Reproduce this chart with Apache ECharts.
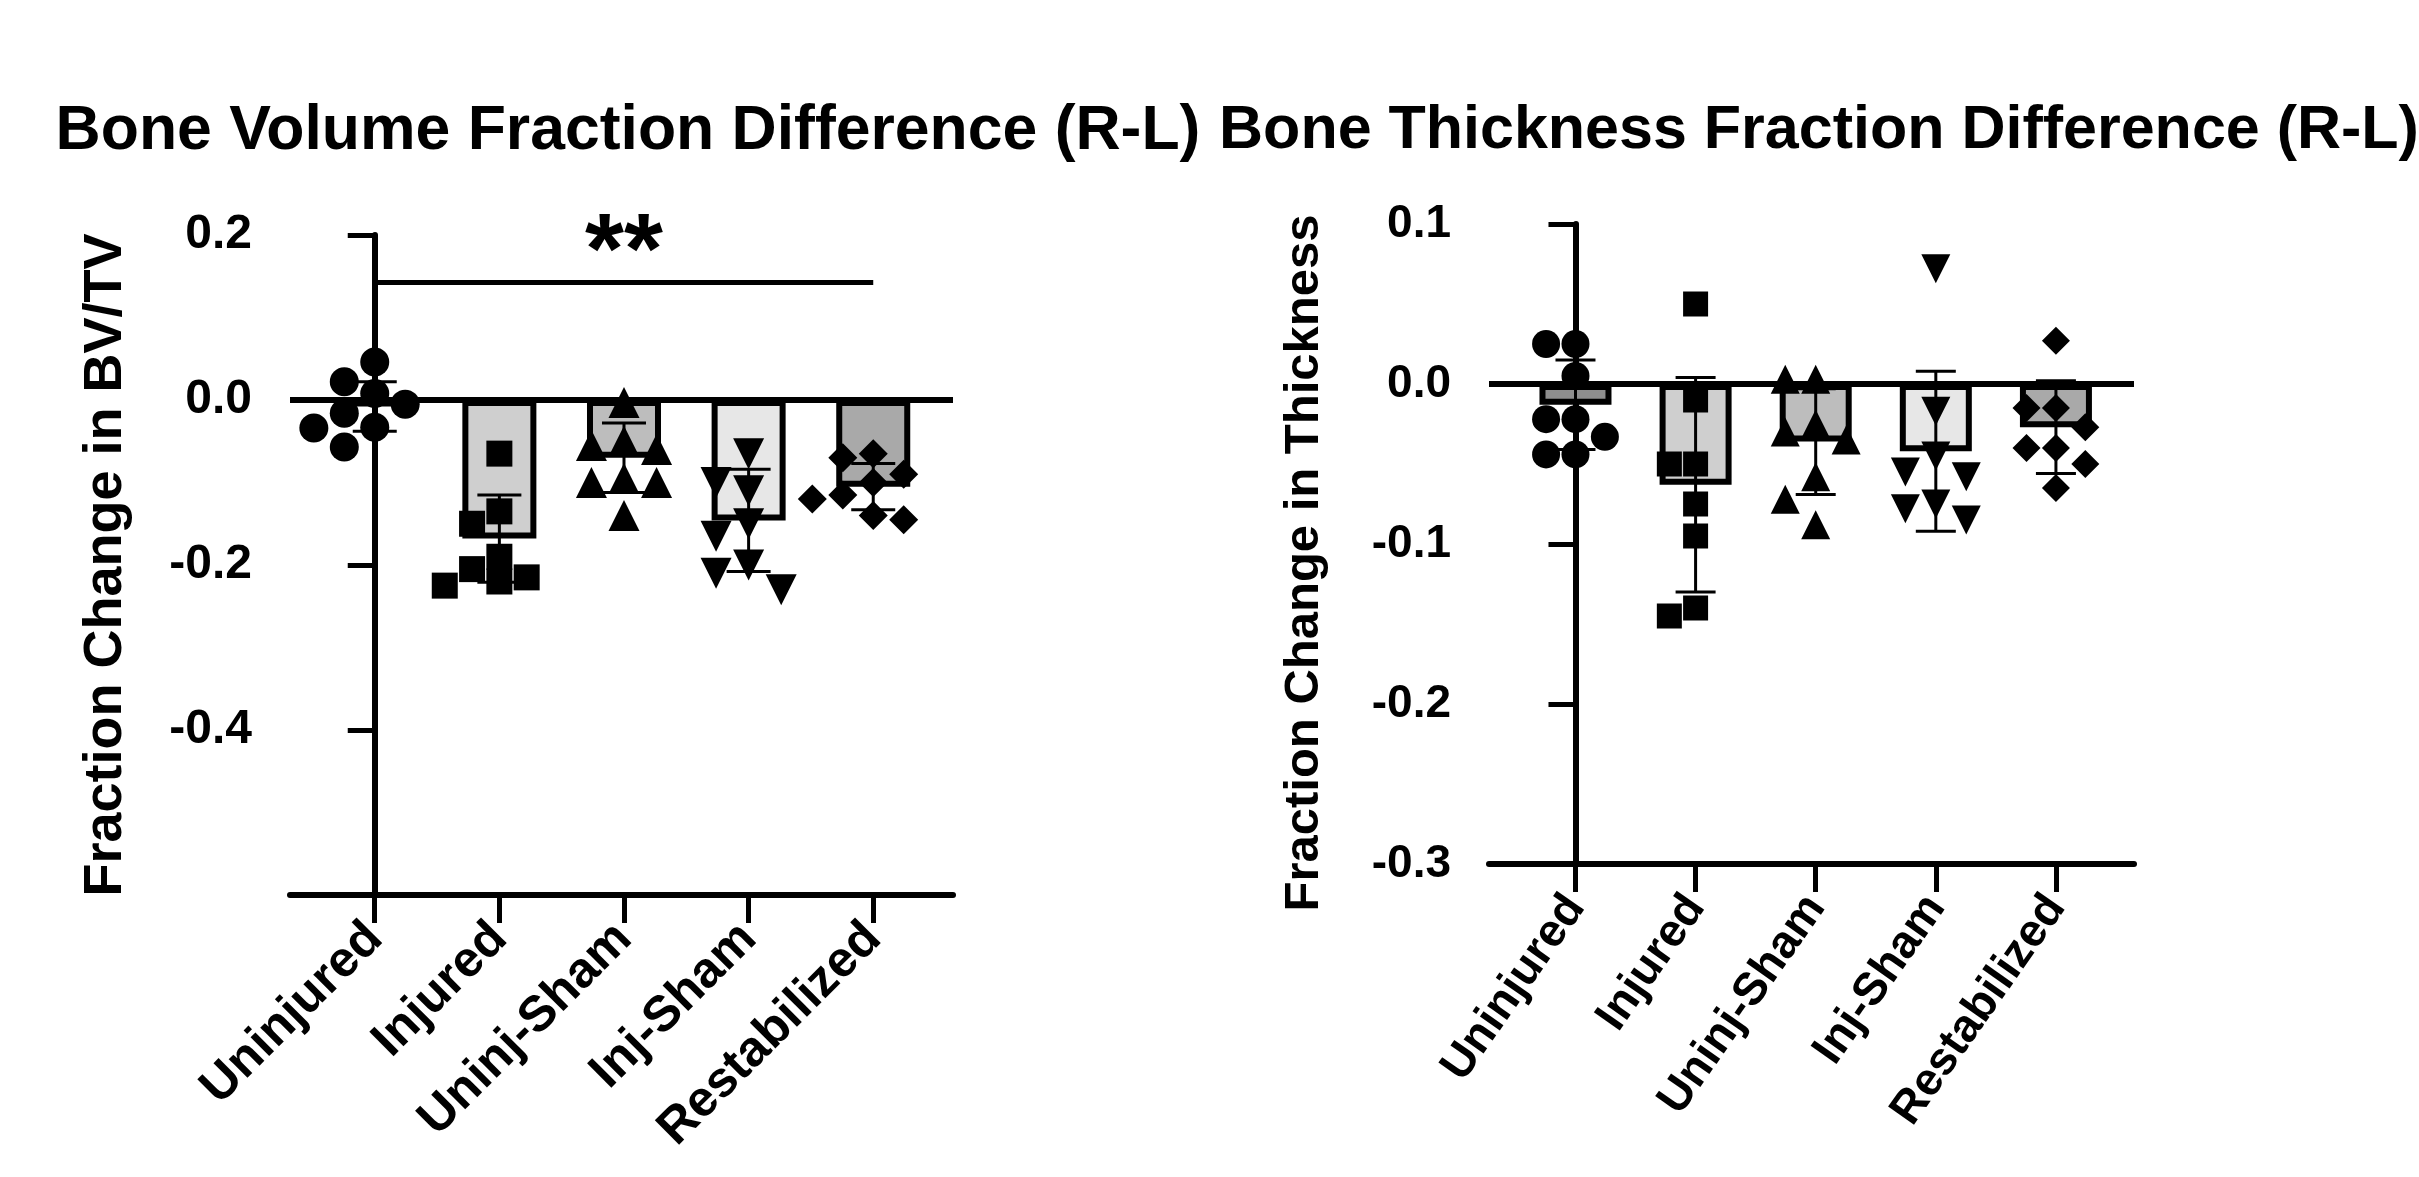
<!DOCTYPE html>
<html>
<head>
<meta charset="utf-8">
<script src="https://cdn.jsdelivr.net/npm/echarts@6/dist/echarts.min.js"></script>
<style>
  html, body { margin: 0; padding: 0; background: #fff; }
  #chart { width: 2419px; height: 1177px; }
</style>
</head>
<body>
<div id="chart"></div>
<script>
var categories = ['Uninjured', 'Injured', 'Uninj-Sham', 'Inj-Sham', 'Restabilized'];

// BV/TV difference (R-L): bar = mean, whisker = SD
var bvMean = [-0.008, -0.168, -0.070, -0.146, -0.105];
var bvSd = [0.030, 0.053, 0.042, 0.062, 0.028];
var bvUninjured = [0.046, 0.022, 0.008, -0.005, -0.016, -0.033, -0.034, -0.057];
var bvInjured = [-0.065, -0.135, -0.15, -0.19, -0.205, -0.215, -0.22, -0.225];
var bvUninjSham = [-0.003, -0.05, -0.055, -0.06, -0.095, -0.1, -0.1, -0.14];
var bvInjSham = [-0.065, -0.1, -0.11, -0.15, -0.165, -0.2, -0.21, -0.23];
var bvRestab = [-0.065, -0.07, -0.09, -0.1, -0.115, -0.12, -0.14, -0.145];
var bvTicks = [0.2, 0.0, -0.2, -0.4];
var bvSig = { from: 0, to: 4, y: 0.143, text: '**' };

// thickness difference (R-L)
var thMean = [-0.013, -0.063, -0.036, -0.042, -0.027];
var thSd = [0.028, 0.067, 0.033, 0.050, 0.029];
var thUninjured = [0.025, 0.025, 0.005, -0.022, -0.022, -0.033, -0.044, -0.044];
var thInjured = [0.05, -0.01, -0.05, -0.05, -0.075, -0.095, -0.14, -0.145];
var thUninjSham = [0.003, 0.003, -0.025, -0.03, -0.035, -0.058, -0.072, -0.088];
var thInjSham = [0.072, -0.017, -0.045, -0.055, -0.058, -0.075, -0.078, -0.085];
var thRestab = [0.027, -0.015, -0.015, -0.027, -0.04, -0.04, -0.05, -0.065];
var thTicks = [0.1, 0.0, -0.1, -0.2, -0.3];

var catTicks = [0, 1, 2, 3, 4];

var FONT = 'Liberation Sans';
var barColors = ['#8e8e8e', '#cfcfcf', '#bdbdbd', '#e7e7e7', '#a9a9a9'];
var symbols = ['circle', 'rect', 'triangle', 'triangle', 'diamond'];
var symbolRot = [0, 0, 0, 180, 0];

// plot boxes (px)
var G1 = { left: 290, top: 235, width: 663, height: 660, xmin: -0.68, xmax: 4.64, ymin: -0.6, ymax: 0.2 };
var G2 = { left: 1489, top: 224, width: 645, height: 640, xmin: -0.72, xmax: 4.65, ymin: -0.3, ymax: 0.1 };

// spread points of one column sideways so they don't overlap (column scatter)
function swarm(values, idx, g, size) {
  var pxY = g.height / (g.ymax - g.ymin);
  var pxX = g.width / (g.xmax - g.xmin);
  var order = values.map(function (v, i) { return i; })
    .sort(function (a, b) { return values[b] - values[a]; });
  var cand = [0, -1, 1, -2, 2, -0.5, 0.5, -1.5, 1.5];
  var placed = [];
  var out = [];
  order.forEach(function (i) {
    var y = values[i] * pxY;
    var x = 0;
    for (var k = 0; k < cand.length; k++) {
      x = cand[k] * size;
      var ok = placed.every(function (p) {
        var dx = p[0] - x, dy = p[1] - y;
        return dx * dx + dy * dy >= size * size * 0.8;
      });
      if (ok) break;
    }
    placed.push([x, y]);
    out.push([idx + x / pxX, values[i]]);
  });
  return out;
}

function axisX(gi, g, rot, fs, margin) {
  return {
    type: 'value', gridIndex: gi, min: g.xmin, max: g.xmax,
    axisLine: { show: true, onZero: false, lineStyle: { color: '#000', width: 6 } },
    axisTick: { show: true, length: 28, customValues: catTicks, lineStyle: { color: '#000', width: 5 } },
    axisLabel: {
      customValues: catTicks, rotate: rot, margin: margin,
      fontFamily: FONT, fontWeight: 'bold', fontSize: fs, color: '#000',
      formatter: function (v) { return categories[Math.round(v)]; }
    },
    splitLine: { show: false }
  };
}

function axisY(gi, g, ticks, name, nfs, gap, lfs, shift) {
  return {
    type: 'value', gridIndex: gi, min: g.ymin, max: g.ymax,
    name: name, nameLocation: 'middle', nameGap: gap,
    nameTextStyle: { fontFamily: FONT, fontWeight: 'bold', fontSize: nfs, color: '#000', padding: [0, shift, 0, 0] },
    axisLine: { show: true, lineStyle: { color: '#000', width: 6 } },
    axisTick: { show: true, length: 27, customValues: ticks, lineStyle: { color: '#000', width: 5 } },
    axisLabel: {
      customValues: ticks, margin: 38,
      fontFamily: FONT, fontWeight: 'bold', fontSize: lfs, color: '#000',
      formatter: function (v) { return (Math.abs(v) < 1e-9 ? 0 : v).toFixed(1); }
    },
    splitLine: { show: false }
  };
}

function barSeries(ai, means, bw) {
  return {
    type: 'bar', xAxisIndex: ai, yAxisIndex: ai, barWidth: bw, z: 2,
    data: means.map(function (m, i) {
      return { value: [i, m], itemStyle: { color: barColors[i] } };
    }),
    itemStyle: { borderColor: '#000', borderWidth: 6 },
    markLine: {
      silent: true, symbol: 'none', label: { show: false },
      lineStyle: { color: '#000', width: 6, type: 'solid' },
      data: [{ yAxis: 0 }]
    }
  };
}

function errSeries(ai, means, sds, capW) {
  return {
    type: 'custom', xAxisIndex: ai, yAxisIndex: ai, z: 4,
    data: means.map(function (m, i) { return [i, m - sds[i], m + sds[i]]; }),
    encode: { x: 0, y: [1, 2] },
    renderItem: function (params, api) {
      var lo = api.coord([api.value(0), api.value(1)]);
      var hi = api.coord([api.value(0), api.value(2)]);
      var st = { stroke: '#000', lineWidth: 3 };
      return {
        type: 'group', children: [
          { type: 'line', shape: { x1: lo[0], y1: lo[1], x2: hi[0], y2: hi[1] }, style: st },
          { type: 'line', shape: { x1: lo[0] - capW / 2, y1: lo[1], x2: lo[0] + capW / 2, y2: lo[1] }, style: st },
          { type: 'line', shape: { x1: hi[0] - capW / 2, y1: hi[1], x2: hi[0] + capW / 2, y2: hi[1] }, style: st }
        ]
      };
    }
  };
}

function pointSeries(ai, g, groups, sizes) {
  return groups.map(function (vals, i) {
    return {
      type: 'scatter', xAxisIndex: ai, yAxisIndex: ai, z: 3,
      symbol: symbols[i], symbolRotate: symbolRot[i], symbolSize: sizes[i],
      itemStyle: { color: '#000', opacity: 1 },
      data: swarm(vals, i, g, sizes[i] * 1.05)
    };
  });
}

var chart = echarts.init(document.getElementById('chart'));

var series = [
  barSeries(0, bvMean, 74),
  barSeries(1, thMean, 72)
]
  .concat(pointSeries(0, G1, [bvUninjured, bvInjured, bvUninjSham, bvInjSham, bvRestab], [29, 26, 31, 31, 29]))
  .concat(pointSeries(1, G2, [thUninjured, thInjured, thUninjSham, thInjSham, thRestab], [28, 25, 29, 29, 28]))
  .concat([errSeries(0, bvMean, bvSd, 44), errSeries(1, thMean, thSd, 40)]);

// significance bar
series.push({
  type: 'line', xAxisIndex: 0, yAxisIndex: 0, data: [], silent: true,
  markLine: {
    silent: true, symbol: 'none',
    lineStyle: { color: '#000', width: 5, type: 'solid' },
    label: {
      show: true, position: 'middle', formatter: bvSig.text, distance: -23,
      fontFamily: FONT, fontWeight: 'bold', fontSize: 100, color: '#000'
    },
    data: [[{ coord: [bvSig.from, bvSig.y] }, { coord: [bvSig.to, bvSig.y] }]]
  }
});

chart.setOption({
  backgroundColor: '#fff',
  animation: false,
  title: [
    {
      text: 'Bone Volume Fraction Difference (R-L)', left: 623, top: 95, textAlign: 'center',
      textStyle: { fontFamily: FONT, fontWeight: 'bold', fontSize: 62.5, color: '#000' }
    },
    {
      text: 'Bone Thickness Fraction Difference (R-L)', left: 1814, top: 96, textAlign: 'center',
      textStyle: { fontFamily: FONT, fontWeight: 'bold', fontSize: 61, color: '#000' }
    }
  ],
  grid: [
    { left: G1.left, top: G1.top, width: G1.width, height: G1.height },
    { left: G2.left, top: G2.top, width: G2.width, height: G2.height }
  ],
  xAxis: [axisX(0, G1, 45, 50, 36), axisX(1, G2, 55, 46, 36)],
  yAxis: [
    axisY(0, G1, bvTicks, 'Fraction Change in BV/TV', 54, 157, 48, 0),
    axisY(1, G2, thTicks, 'Fraction Change in Thickness', 49, 160, 46, 38)
  ],
  series: series
});
</script>
</body>
</html>
